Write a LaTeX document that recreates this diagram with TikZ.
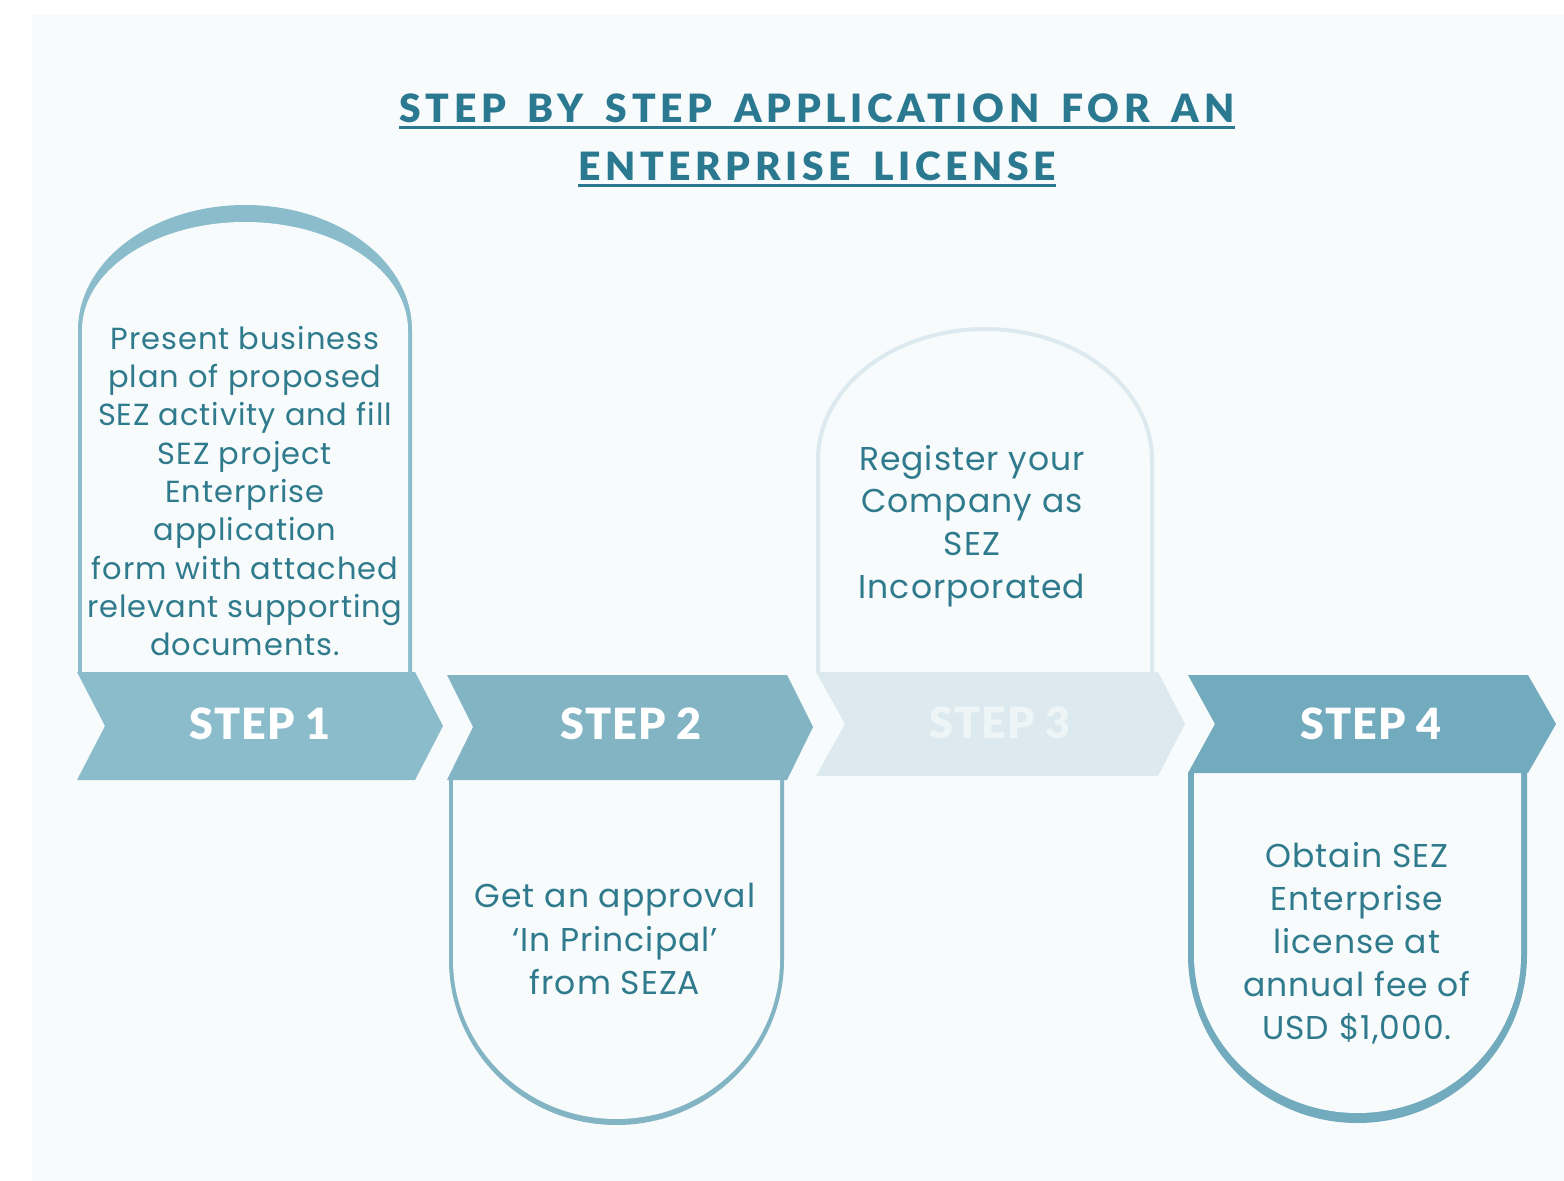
\documentclass[tikz,border=0pt]{standalone}
\usepackage{fontspec}
\setmainfont{Poppins}[LetterSpace=3]
\newfontfamily\headfont{Lato}[UprightFont=*-Black, BoldFont=*-Black]
\newfontfamily\titlefont{Lato}[UprightFont=*-Black, BoldFont=*-Black, LetterSpace=12, WordSpace=1.6]
\usetikzlibrary{calc}
\definecolor{panel}{HTML}{F7FBFB}
\definecolor{cA}{HTML}{8BBCCB}
\definecolor{cB}{HTML}{82B4C4}
\definecolor{cC}{HTML}{DCEAEF}
\definecolor{cD}{HTML}{72AABE}
\definecolor{bodytxt}{HTML}{2F7A8C}
\definecolor{titlecol}{HTML}{2B7891}
\definecolor{faint}{HTML}{EEF5F7}
\tikzset{
  titletext/.style={anchor=base, inner sep=0pt, text=titlecol,
    font=\titlefont\fontsize{39}{40}\selectfont},
  steplabel/.style={inner sep=0pt, text=white,
    font=\headfont\addfontfeatures{LetterSpace=2}\fontsize{43}{44}\selectfont},
  bodytext/.style={inner sep=0pt, align=center, text=bodytxt},
}
\begin{document}
\begin{tikzpicture}[x=1pt,y=-1pt]
\fill[white] (0,0) rectangle (1564,1181);
\fill[panel] (32,15) rectangle (1564,1181);
\useasboundingbox (0,0) rectangle (1564,1181);

% heading
\node[titletext] (t1) at (817,122) {STEP BY STEP APPLICATION FOR AN};
\node[titletext] (t2) at (817,180) {ENTERPRISE LICENSE};
\draw[titlecol, line width=3pt] ($(t1.base west)+(0,5)$) -- ($(t1.base east)+(0,5)$);
\draw[titlecol, line width=3pt] ($(t2.base west)+(0,5)$) -- ($(t2.base east)+(0,5)$);

% step 1: arched card above the band
\fill[cA] (78,672) -- (78,330) arc[start angle=180, end angle=360, x radius=167, y radius=125] -- (412,672) -- cycle;
\fill[panel] (82,672) -- (82,330) arc[start angle=180, end angle=360, x radius=163, y radius=108] -- (408,672) -- cycle;
\fill[cA] (77,672) -- (415,672) -- (443,726) -- (415,780) -- (77,780) -- (105,726) -- cycle;
\node[steplabel] (s1) at (260,724) {STEP 1};
\node[bodytext, font=\fontsize{30.5}{38.3}\selectfont] (b1) at (245,491)
  {Present business\\plan of proposed\\SEZ activity and fill\\SEZ project\\Enterprise\\application\\form with attached\\relevant supporting\\documents.};

% step 2: arched card below the band
\fill[cB] (449,778) -- (449,960) arc[start angle=180, end angle=0, x radius=167.5, y radius=165] -- (784,778) -- cycle;
\fill[panel] (453,778) -- (453,960) arc[start angle=180, end angle=0, x radius=163.5, y radius=159] -- (780,778) -- cycle;
\fill[cB] (447,675) -- (787,675) -- (813,727) -- (787,780) -- (447,780) -- (473,727) -- cycle;
\node[steplabel] (s2) at (631,724) {STEP 2};
\node[bodytext, font=\fontsize{33}{43.5}\selectfont] (b2) at (615,939)
  {Get an approval\\`In Principal'\\from SEZA};

% step 3: faint card above the band
\draw[cC, line width=4pt] (818,672) -- (818,460) arc[start angle=180, end angle=360, x radius=167, y radius=131] -- (1152,672);
\fill[cC] (816,672) -- (1158,672) -- (1185,724) -- (1158,776) -- (816,776) -- (845,724) -- cycle;
\node[steplabel, text=faint] (s3) at (1000,723) {STEP 3};
\node[bodytext, font=\fontsize{33}{42.7}\selectfont] (b3) at (972,526)
  {Register your\\Company as\\SEZ\\Incorporated};

% step 4: arched card below the band
\fill[cD] (1188,772) -- (1188,955) arc[start angle=180, end angle=0, x radius=169.5, y radius=168] -- (1527,772) -- cycle;
\fill[panel] (1194,772) -- (1194,955) arc[start angle=180, end angle=0, x radius=163.5, y radius=158] -- (1521,772) -- cycle;
\fill[cD] (1188,675) -- (1528,675) -- (1556,724) -- (1528,773) -- (1188,773) -- (1215,724) -- cycle;
\node[steplabel] (s4) at (1371,724) {STEP 4};
\node[bodytext, font=\fontsize{33}{43}\selectfont] (b4) at (1357,943)
  {Obtain SEZ\\Enterprise\\license at\\annual fee of\\USD \$1,000.};
\end{tikzpicture}
\end{document}
